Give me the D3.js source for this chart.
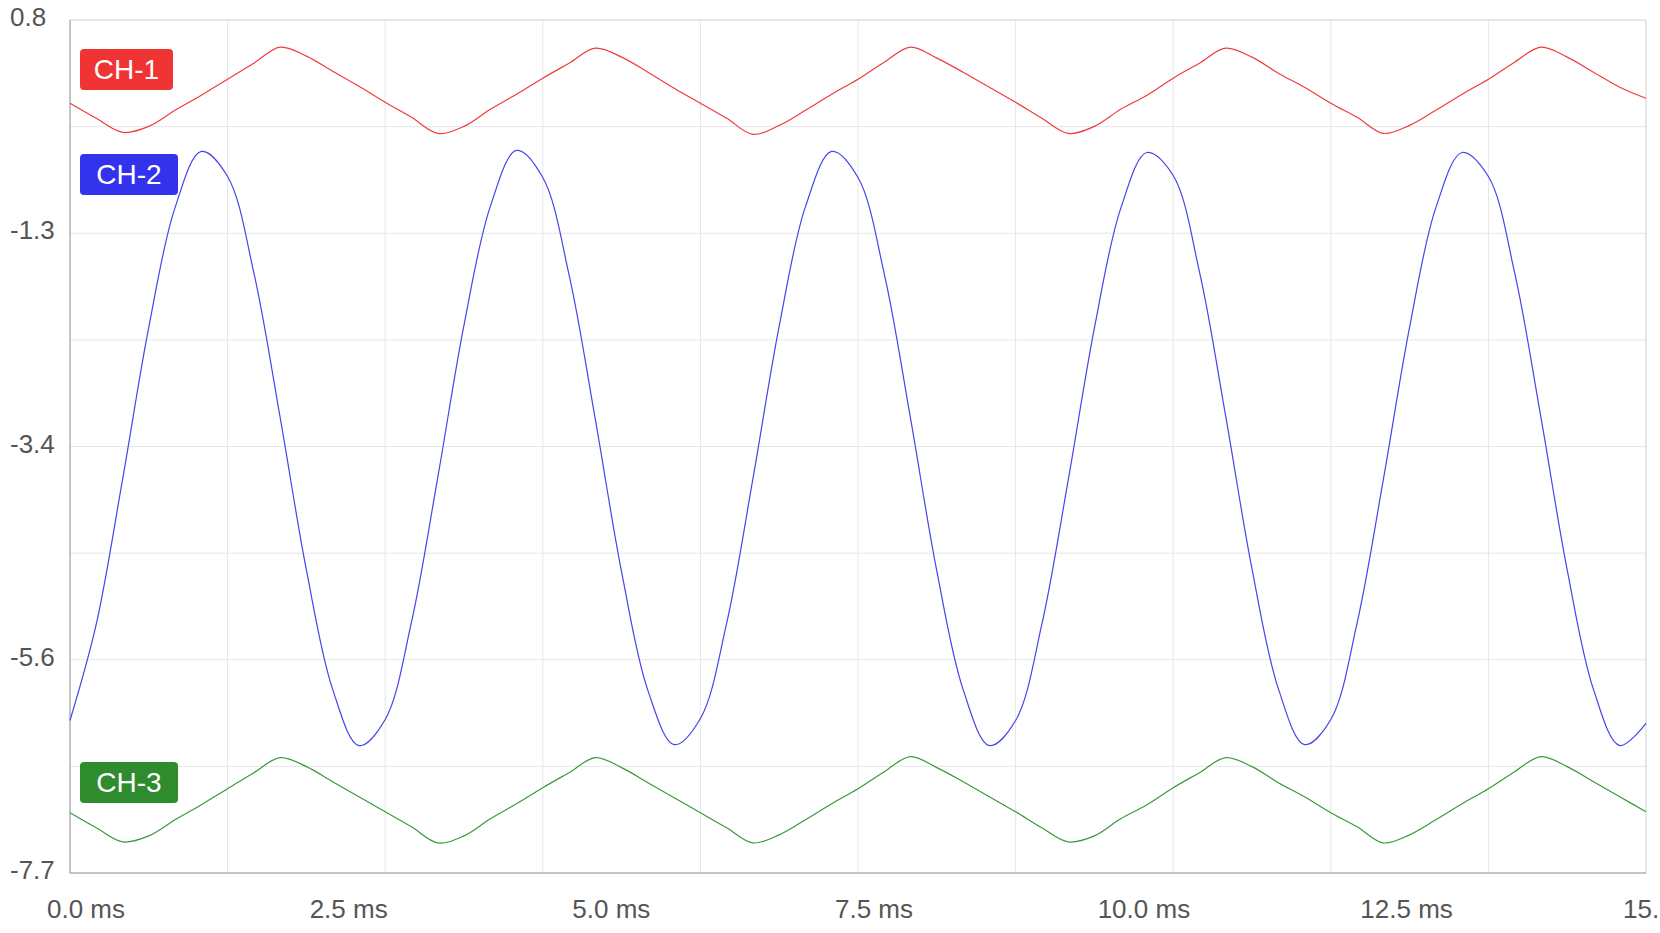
<!DOCTYPE html>
<html>
<head>
<meta charset="utf-8">
<script src="https://cdn.jsdelivr.net/npm/d3@7"></script>
<style>
  body { margin: 0; background: #fff; }
  text { font-family: "Liberation Sans", Arial, sans-serif; }
</style>
</head>
<body>
<svg id="chart" width="1660" height="933"></svg>
<script>
"use strict";

// sample step, ms
var step = 0.25;

var ch1 = [
  -0.03,-0.18,-0.32,-0.26,-0.10,0.05,0.21,0.37,0.53,0.44,0.29,0.14,
  -0.02,-0.17,-0.33,-0.26,-0.09,0.06,0.22,0.37,0.52,0.43,0.28,0.12,
  -0.03,-0.18,-0.34,-0.25,-0.10,0.06,0.21,0.38,0.53,0.42,0.28,0.13,
  -0.02,-0.18,-0.33,-0.26,-0.09,0.05,0.22,0.37,0.52,0.43,0.27,0.13,
  -0.03,-0.17,-0.33,-0.25,-0.10,0.06,0.21,0.38,0.53,0.43,0.28,0.13,
  0.02
];

var ch2 = [
  -6.18,-5.22,-3.78,-2.26,-1.07,-0.51,-0.76,-1.72,-3.16,-4.68,-5.87,-6.43,
  -6.17,-5.20,-3.76,-2.24,-1.06,-0.50,-0.77,-1.74,-3.18,-4.70,-5.88,-6.42,
  -6.16,-5.21,-3.77,-2.25,-1.06,-0.51,-0.77,-1.73,-3.17,-4.69,-5.87,-6.43,
  -6.18,-5.22,-3.79,-2.27,-1.08,-0.52,-0.75,-1.71,-3.15,-4.67,-5.86,-6.42,
  -6.17,-5.21,-3.78,-2.26,-1.07,-0.52,-0.76,-1.72,-3.16,-4.68,-5.87,-6.43,
  -6.21
];

var ch3 = [
  -7.10,-7.25,-7.39,-7.33,-7.17,-7.02,-6.86,-6.70,-6.55,-6.64,-6.79,-6.94,
  -7.09,-7.24,-7.40,-7.33,-7.16,-7.01,-6.85,-6.70,-6.55,-6.65,-6.80,-6.95,
  -7.10,-7.25,-7.40,-7.32,-7.17,-7.01,-6.86,-6.69,-6.54,-6.65,-6.79,-6.94,
  -7.09,-7.25,-7.39,-7.33,-7.16,-7.02,-6.85,-6.70,-6.55,-6.64,-6.80,-6.94,
  -7.10,-7.24,-7.40,-7.32,-7.17,-7.01,-6.86,-6.69,-6.54,-6.64,-6.79,-6.94,
  -7.09
];

var yTicks = [0.8, -1.325, -3.45, -5.575, -7.7];
var yTickLabels = ["0.8", "-1.3", "-3.4", "-5.6", "-7.7"];
var xTicks = [0, 2.5, 5, 7.5, 10, 12.5, 15];
var xTickLabels = ["0.0 ms", "2.5 ms", "5.0 ms", "7.5 ms", "10.0 ms", "12.5 ms", "15.0 ms"];
var xGrid = [1.5, 3, 4.5, 6, 7.5, 9, 10.5, 12, 13.5];
var yGrid = [-0.2625, -2.3875, -4.5125, -6.6375, -1.325, -3.45, -5.575];

var channels = [
  { name: "CH-1", values: ch1, line: "#f03c3c", box: "#f03333", boxY: 49, boxW: 93 },
  { name: "CH-2", values: ch2, line: "#4545ee", box: "#3333ee", boxY: 154, boxW: 98 },
  { name: "CH-3", values: ch3, line: "#3a9a3a", box: "#2e8b2e", boxY: 762, boxW: 98 }
];

(function() {
  var svg = d3.select("#chart"),
    x0 = 70, x1 = 1646, y0 = 20, y1 = 873;

  var x = d3.scaleLinear().domain([0, 15]).range([x0, x1]);
  var y = d3.scaleLinear().domain([-7.7, 0.8]).range([y1, y0]);

  // grid
  svg.selectAll(".gx").data(xGrid).enter().append("line")
    .attr("x1", x).attr("x2", x).attr("y1", y0).attr("y2", y1)
    .attr("stroke", "#e6e6e6");
  svg.selectAll(".gy").data(yGrid).enter().append("line")
    .attr("x1", x0).attr("x2", x1).attr("y1", y).attr("y2", y)
    .attr("stroke", "#e6e6e6");

  // frame
  svg.append("line").attr("x1", x0).attr("x2", x1).attr("y1", y0).attr("y2", y0).attr("stroke", "#d0d0d0");
  svg.append("line").attr("x1", x1).attr("x2", x1).attr("y1", y0).attr("y2", y1).attr("stroke", "#d0d0d0");
  svg.append("line").attr("x1", x0).attr("x2", x0).attr("y1", y0).attr("y2", y1).attr("stroke", "#8a8a8a");
  svg.append("line").attr("x1", x0).attr("x2", x1).attr("y1", y1).attr("y2", y1).attr("stroke", "#8a8a8a");

  // tick labels
  svg.selectAll(".yl").data(yTicks).enter().append("text")
    .attr("x", 10).attr("y", function(d) { return y(d) + 6; })
    .attr("font-size", 26).attr("fill", "#555")
    .text(function(d, i) { return yTickLabels[i]; });
  svg.selectAll(".xl").data(xTicks).enter().append("text")
    .attr("x", function(d) { return x(d) - 23; }).attr("y", 918)
    .attr("font-size", 26).attr("fill", "#555")
    .text(function(d, i) { return xTickLabels[i]; });

  // traces
  var line = d3.line()
    .x(function(d, i) { return x(i * step); })
    .y(function(d) { return y(d); })
    .curve(d3.curveCatmullRom);

  channels.forEach(function(c) {
    svg.append("path").datum(c.values)
      .attr("d", line).attr("fill", "none")
      .attr("stroke", c.line).attr("stroke-width", 1.2);
  });

  // channel badges
  channels.forEach(function(c) {
    svg.append("rect").attr("x", 80).attr("y", c.boxY)
      .attr("width", c.boxW).attr("height", 41).attr("rx", 4)
      .attr("fill", c.box);
    svg.append("text").attr("x", 80 + c.boxW / 2).attr("y", c.boxY + 30)
      .attr("text-anchor", "middle").attr("font-size", 28).attr("fill", "#fff")
      .text(c.name);
  });
})();
</script>
</body>
</html>
